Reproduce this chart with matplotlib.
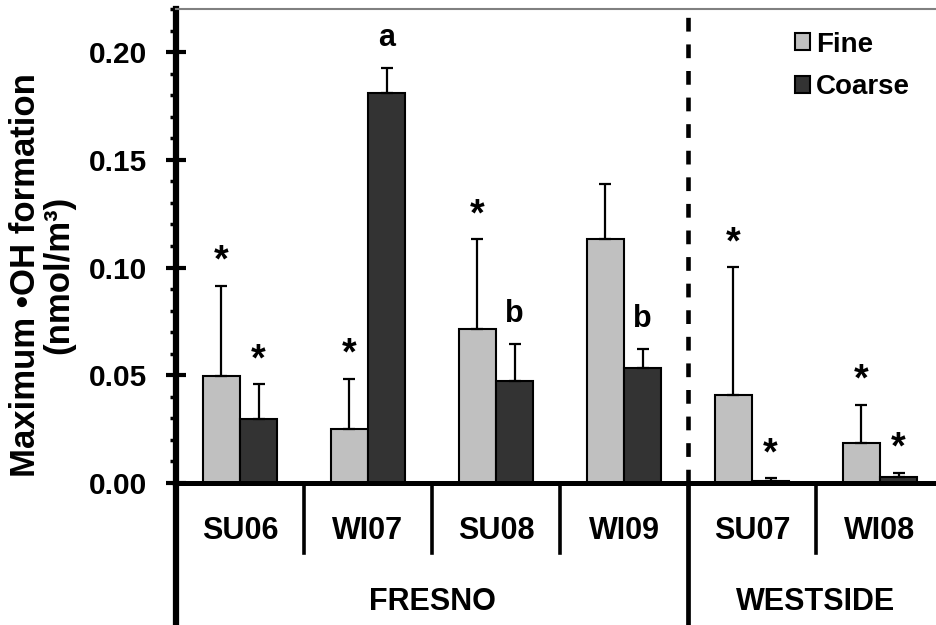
import numpy as np
import matplotlib
matplotlib.use("Agg")
import matplotlib.pyplot as plt
import matplotlib.transforms as mtransforms
from matplotlib.ticker import MultipleLocator, FormatStrFormatter

# data
periods = ["SU06", "WI07", "SU08", "WI09", "SU07", "WI08"]
sites = ["FRESNO", "WESTSIDE"]
site_counts = [4, 2]
fine = [0.0497, 0.0249, 0.0714, 0.1133, 0.0409, 0.0187]
fine_err = [0.0418, 0.0235, 0.0417, 0.0254, 0.0594, 0.0177]
coarse = [0.0297, 0.1810, 0.0474, 0.0535, 0.0008, 0.0028]
coarse_err = [0.0163, 0.0117, 0.0171, 0.0087, 0.0014, 0.0020]
fine_marks = ["*", "*", "*", "", "*", "*"]
coarse_marks = ["*", "a", "b", "b", "*", "*"]

plt.rcParams["font.family"] = ["Liberation Sans", "DejaVu Sans"]
plt.rcParams["font.weight"] = "bold"

fig = plt.figure(figsize=(9.37, 6.25), dpi=100)
ax = fig.add_axes([176 / 937, 142 / 625, 768 / 937, 474 / 625])

x = np.arange(len(periods))
w = 0.29
zeros = np.zeros(len(periods))
ekw = dict(elinewidth=1.6, capthick=1.6, ecolor="black")

ax.bar(x - w / 2, fine, w, yerr=[zeros, fine_err], capsize=4.3, color="#c0c0c0",
       edgecolor="black", linewidth=1.5, error_kw=ekw, label="Fine")
ax.bar(x + w / 2, coarse, w, yerr=[zeros, coarse_err], capsize=4.3, color="#333333",
       edgecolor="black", linewidth=1.5, error_kw=ekw, label="Coarse")

# significance marks (asterisks a bit bigger than the letters)
for i in range(len(periods)):
    for dx, val, err, mark in [(-w / 2, fine[i], fine_err[i], fine_marks[i]),
                               (w / 2, coarse[i], coarse_err[i], coarse_marks[i])]:
        if not mark:
            continue
        if mark == "*":
            off, size = 10, 27
        else:
            off, size = 16, 22
        ax.annotate(mark, (x[i] + dx, val + err), xytext=(0, off),
                    textcoords="offset points", ha="center", va="baseline",
                    fontsize=size, fontweight="bold")

ax.set_xlim(-0.5, len(periods) - 0.5)
ax.set_ylim(0, 0.22)
ax.yaxis.set_major_locator(MultipleLocator(0.05))
ax.yaxis.set_minor_locator(MultipleLocator(0.01))
ax.yaxis.set_major_formatter(FormatStrFormatter("%.2f"))
ax.tick_params(axis="y", which="major", direction="inout", length=14.4, width=3,
               labelsize=21.5, pad=13.7)
ax.tick_params(axis="y", which="minor", direction="out", length=4.3, width=2.5)

ax.set_xticks(x, periods)
ax.tick_params(axis="x", length=0, labelsize=22, pad=23.5)

ax.spines["left"].set_linewidth(4.5)
ax.spines["bottom"].set_linewidth(3.6)
ax.spines["top"].set_color("#808080")
ax.spines["top"].set_linewidth(1.5)
ax.spines["right"].set_visible(False)

# site separator
split = site_counts[0] - 0.5
ax.axvline(split, color="black", lw=3.3, dashes=(3, 2.8), zorder=1)

# category lines below the axis
trans = mtransforms.blended_transform_factory(ax.transData, ax.transAxes)
for b in x[1:] - 0.5:
    if b == split:
        continue
    ax.plot([b, b], [0, -0.148], color="black", lw=2.6, transform=trans, clip_on=False)
ax.plot([-0.5, -0.5], [0, -0.32], color="black", lw=4.5, transform=trans, clip_on=False,
        solid_capstyle="butt")
ax.plot([split, split], [0, -0.32], color="black", lw=3.4, transform=trans, clip_on=False,
        solid_capstyle="butt")

start = 0
for site, n in zip(sites, site_counts):
    ax.text(start - 0.5 + n / 2, -0.268, site, transform=trans, ha="center",
            va="baseline", fontsize=22, fontweight="bold")
    start += n

ax.set_ylabel("Maximum •OH formation\n(nmol/m³)", fontsize=25, fontweight="bold",
              linespacing=1.0)
ax.yaxis.set_label_coords(-0.1315, 0.439)

ax.legend(loc="upper left", bbox_to_anchor=(795 / 937, 593.5 / 625),
          bbox_transform=fig.transFigure, frameon=False, fontsize=20,
          handlelength=0.55, handleheight=0.55, handletextpad=0.2,
          labelspacing=0.6, borderpad=0, borderaxespad=0)

plt.savefig("out.png", dpi=100)
